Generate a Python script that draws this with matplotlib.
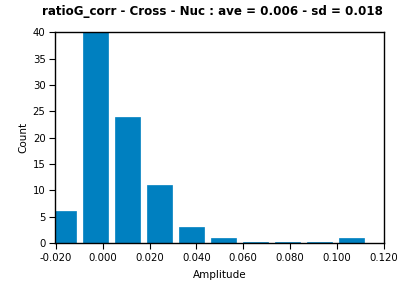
import matplotlib
matplotlib.use("Agg")
import matplotlib.pyplot as plt

bin_centers = [-0.0168, -0.0031, 0.0106, 0.0242, 0.0379, 0.0516, 0.0652, 0.0789, 0.0926, 0.1062]
counts = [6, 40, 24, 11, 3, 1, 0, 0, 0, 1]
xticks = [-0.02, 0.0, 0.02, 0.04, 0.06, 0.08, 0.10, 0.12]
yticks = [0, 5, 10, 15, 20, 25, 30, 35, 40]
title = "ratioG_corr - Cross - Nuc : ave = 0.006 - sd = 0.018"

plt.rcParams['font.family'] = ['DejaVu Sans']
fig = plt.figure(figsize=(4.08, 2.87), dpi=100)
ax = fig.add_axes([0.1356, 0.1533, 0.8064, 0.7335])
# empty bins are shown as a thin line just above the axis
shown = [c if c > 0 else 0.25 for c in counts]
ax.bar(bin_centers, shown, width=0.0107, color='#0080C0', edgecolor='#0080C0', linewidth=0.5)
ax.set_xlim(-0.0203, 0.1203)
ax.set_ylim(0, 40)
ax.set_xticks(xticks)
ax.set_xticklabels([f"{t:.3f}" for t in xticks], fontsize=7.3)
ax.set_yticks(yticks)
ax.set_yticklabels([str(t) for t in yticks], fontsize=7.3)
ax.tick_params(direction='out', length=4, width=0.8, pad=3, colors='black')
for s in ax.spines.values():
    s.set_linewidth(1.0)
ax.set_xlabel("Amplitude", fontsize=7.5, labelpad=5)
ax.set_ylabel("Count", fontsize=7.5, labelpad=3)
fig.text(212/408, 1 - 12/287, title, ha='center', va='center', fontsize=8.6, fontweight='bold')
fig.savefig("out.png", dpi=100)
